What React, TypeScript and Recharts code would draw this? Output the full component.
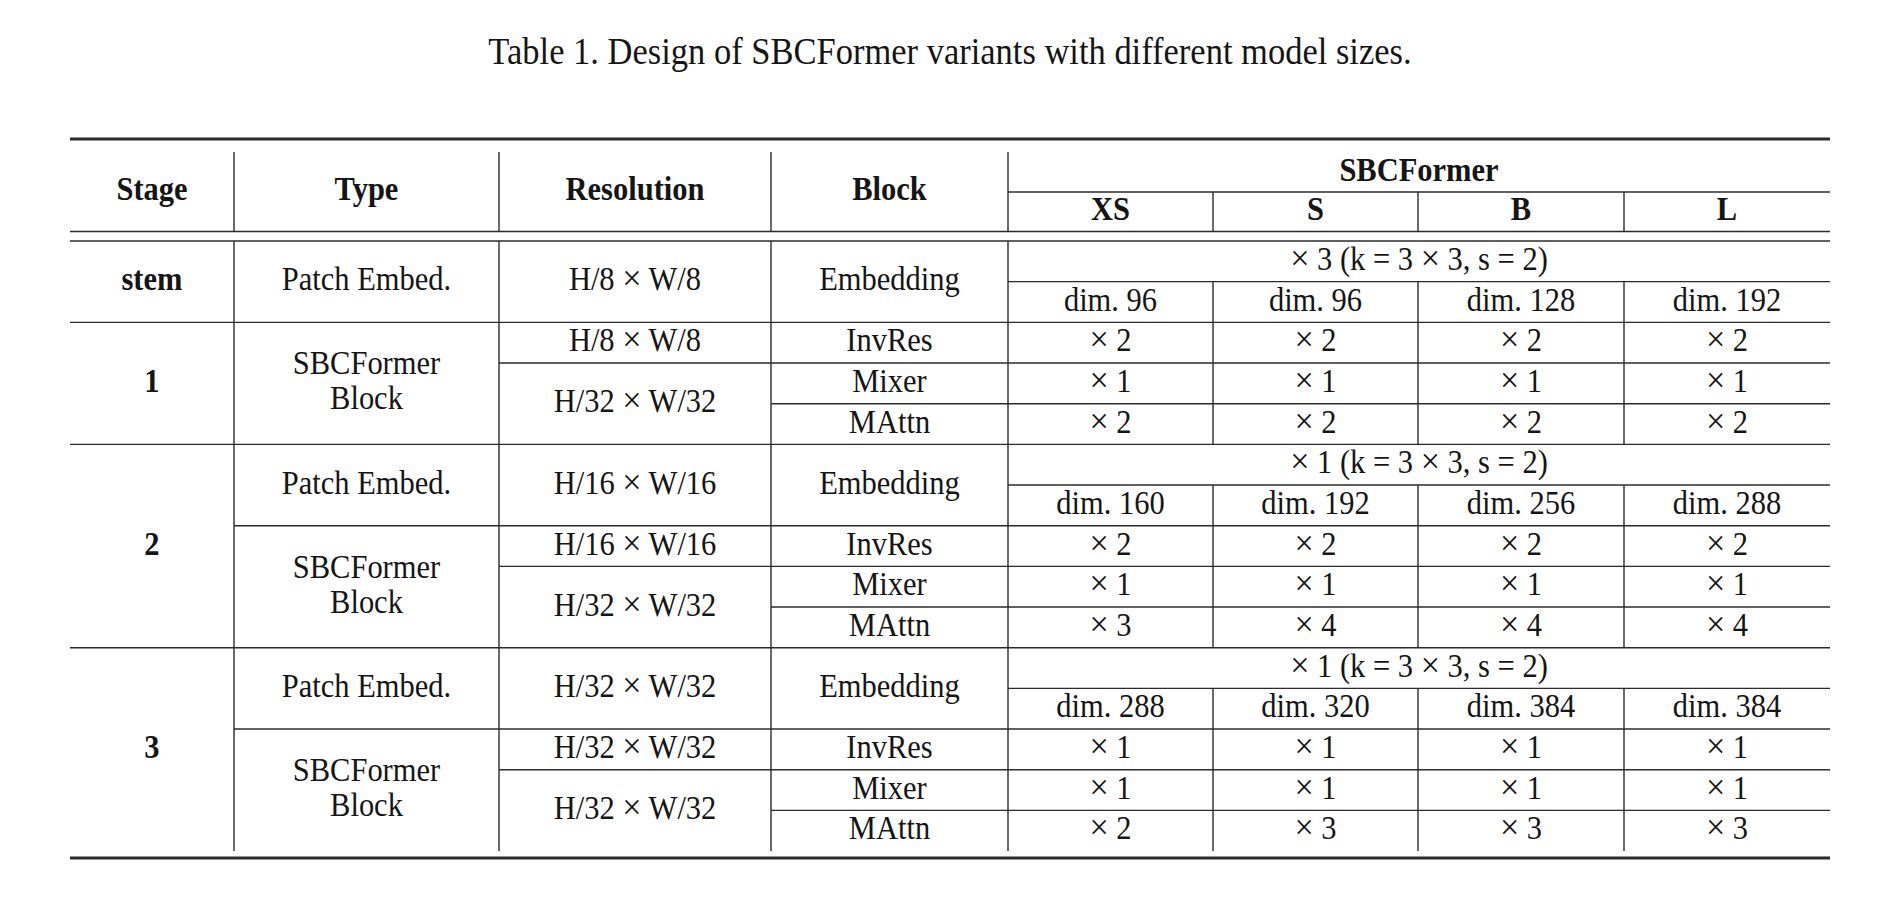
import React from 'react';
import { ScatterChart, Scatter, XAxis, YAxis, ReferenceLine } from 'recharts';

// table content
const titleText = 'Table 1. Design of SBCFormer variants with different model sizes.';
const headers = ['Stage', 'Type', 'Resolution', 'Block'];
const groupTitle = 'SBCFormer';
const variants = ['XS', 'S', 'B', 'L'];
const stageNames = ['stem', '1', '2', '3'];
const embedType = 'Patch Embed.';
const embedBlock = 'Embedding';
const blockType = ['SBCFormer', 'Block'];
const blockNames = ['InvRes', 'Mixer', 'MAttn'];
// embedding layers: stem, stage 2, stage 3
const embedKernels = ['× 3 (k = 3 × 3, s = 2)', '× 1 (k = 3 × 3, s = 2)', '× 1 (k = 3 × 3, s = 2)'];
const embedResolutions = ['H/8 × W/8', 'H/16 × W/16', 'H/32 × W/32'];
const dims = [
  [96, 96, 128, 192],
  [160, 192, 256, 288],
  [288, 320, 384, 384],
];
// block layers: stage 1, 2, 3
const blockResolutions = [
  ['H/8 × W/8', 'H/32 × W/32'],
  ['H/16 × W/16', 'H/32 × W/32'],
  ['H/32 × W/32', 'H/32 × W/32'],
];
const invResCounts = [[2, 2, 2, 2], [2, 2, 2, 2], [1, 1, 1, 1]];
const mixerCounts = [[1, 1, 1, 1], [1, 1, 1, 1], [1, 1, 1, 1]];
const mattnCounts = [[2, 2, 2, 2], [3, 4, 4, 4], [2, 3, 3, 3]];

// layout (px)
const W = 1902;
const H = 899;
const colEdges = [70, 234, 499, 771, 1008, 1213, 1418, 1624, 1830];
const TITLE_Y = 54.5;
const TOP_RULE = 139;
const HEAD_TOP = 152;
const HEAD_MID = 192;
const HEAD_BOT = 231.5;
const BODY_TOP = 241;
const ROW_H = 40.67;
const BOTTOM_RULE = 858;
const FONT = "'Liberation Serif', 'Times New Roman', Times, serif";
const FS = 30.5;
const STRETCH = 1.07; // glyphs in the source are a bit taller than Liberation Serif
const LINE_COLOR = '#2b2b2b';
const TEXT_COLOR = '#151515';

const rowY = (r: number) => BODY_TOP + r * ROW_H;

type Cell = { x: number; y: number; lines: string[]; bold?: boolean; size?: number };
type Seg = { x1: number; y1: number; x2: number; y2: number; w: number };

const cells: Cell[] = [];
const segs: Seg[] = [];

const add = (text: string | string[], c0: number, c1: number, y0: number, y1: number, bold = false) => {
  cells.push({
    x: (colEdges[c0] + colEdges[c1]) / 2,
    y: (y0 + y1) / 2,
    lines: Array.isArray(text) ? text : [text],
    bold,
  });
};
const hline = (y: number, c0: number, c1: number, w = 1.4) =>
  segs.push({ x1: colEdges[c0], y1: y, x2: colEdges[c1], y2: y, w });
const vline = (x: number, y0: number, y1: number, w = 1.4) => segs.push({ x1: x, y1: y0, x2: x, y2: y1, w });
const variantDividers = (y0: number, y1: number) => {
  for (let c = 5; c <= 7; c++) vline(colEdges[c], y0, y1);
};

// title
cells.push({ x: (colEdges[0] + colEdges[8]) / 2, y: TITLE_Y, lines: [titleText], size: 34.5 });

// header
headers.forEach((h, i) => add(h, i, i + 1, HEAD_TOP, HEAD_BOT, true));
add(groupTitle, 4, 8, HEAD_TOP, HEAD_MID, true);
variants.forEach((v, i) => add(v, 4 + i, 5 + i, HEAD_MID, HEAD_BOT, true));

segs.push({ x1: colEdges[0], y1: TOP_RULE, x2: colEdges[8], y2: TOP_RULE, w: 3.2 });
for (let c = 1; c <= 4; c++) vline(colEdges[c], HEAD_TOP, HEAD_BOT);
hline(HEAD_MID, 4, 8);
variantDividers(HEAD_MID, HEAD_BOT);
hline(HEAD_BOT, 0, 8, 1.6);
hline(BODY_TOP, 0, 8, 1.6);

// body
let r = 0;
stageNames.forEach((stage, s) => {
  const start = r;
  const embedIdx = s === 0 ? 0 : s === 1 ? -1 : s - 1;
  if (embedIdx >= 0) {
    add(embedType, 1, 2, rowY(r), rowY(r + 2));
    add(embedResolutions[embedIdx], 2, 3, rowY(r), rowY(r + 2));
    add(embedBlock, 3, 4, rowY(r), rowY(r + 2));
    add(embedKernels[embedIdx], 4, 8, rowY(r), rowY(r + 1));
    dims[embedIdx].forEach((d, i) => add(`dim. ${d}`, 4 + i, 5 + i, rowY(r + 1), rowY(r + 2)));
    hline(rowY(r + 1), 4, 8);
    variantDividers(rowY(r + 1), rowY(r + 2));
    r += 2;
    if (s > 0) hline(rowY(r), 1, 8);
  }
  if (s > 0) {
    const b = s - 1;
    add(blockType, 1, 2, rowY(r), rowY(r + 3));
    add(blockResolutions[b][0], 2, 3, rowY(r), rowY(r + 1));
    add(blockResolutions[b][1], 2, 3, rowY(r + 1), rowY(r + 3));
    blockNames.forEach((n, j) => add(n, 3, 4, rowY(r + j), rowY(r + j + 1)));
    [invResCounts[b], mixerCounts[b], mattnCounts[b]].forEach((row, j) =>
      row.forEach((v, i) => add(`× ${v}`, 4 + i, 5 + i, rowY(r + j), rowY(r + j + 1)))
    );
    hline(rowY(r + 1), 2, 8);
    hline(rowY(r + 2), 3, 8);
    variantDividers(rowY(r), rowY(r + 3));
    r += 3;
  }
  add(stage, 0, 1, rowY(start), rowY(r), true);
  if (s < stageNames.length - 1) hline(rowY(r), 0, 8);
});

for (let c = 1; c <= 4; c++) vline(colEdges[c], BODY_TOP, rowY(r));
segs.push({ x1: colEdges[0], y1: BOTTOM_RULE, x2: colEdges[8], y2: BOTTOM_RULE, w: 3.2 });

// the math "×" in the source is drawn a bit larger than the text one
const renderLine = (line: string) => {
  const parts = line.split('×');
  return parts.map((p, i) => (
    <React.Fragment key={i}>
      {i > 0 && <tspan fontSize="1.12em" dy="0">×</tspan>}
      {p.length > 0 && <tspan fontSize="1em">{p}</tspan>}
    </React.Fragment>
  ));
};

const CellText = (props: any) => {
  const { cx, cy, payload } = props;
  const size = payload.size || FS;
  const lh = 35;
  const n = payload.lines.length;
  return (
    <g>
      {payload.lines.map((line: string, i: number) => {
        const base = cy + size * 0.28 + (i - (n - 1) / 2) * lh;
        return (
          <text
            key={i}
            x={cx}
            y={base}
            textAnchor="middle"
            fontFamily={FONT}
            fontSize={size}
            fontWeight={payload.bold ? 700 : 400}
            fill={TEXT_COLOR}
            transform={`translate(0 ${base}) scale(1 ${STRETCH}) translate(0 ${-base})`}
          >
            {renderLine(line)}
          </text>
        );
      })}
    </g>
  );
};

export default function App() {
  return (
    <div style={{ position: 'absolute', left: 0, top: 0, width: W, height: H, background: '#fff' }}>
      <ScatterChart width={W} height={H} margin={{ top: 0, right: 0, bottom: 0, left: 0 }}>
        <XAxis type="number" dataKey="x" domain={[0, W]} hide />
        <YAxis type="number" dataKey="y" domain={[0, H]} reversed hide />
        {segs.map((s, i) => (
          <ReferenceLine
            key={i}
            segment={[{ x: s.x1, y: s.y1 }, { x: s.x2, y: s.y2 }]}
            stroke={LINE_COLOR}
            strokeWidth={s.w}
            ifOverflow="visible"
          />
        ))}
        <Scatter data={cells} shape={CellText} isAnimationActive={false} />
      </ScatterChart>
    </div>
  );
}
